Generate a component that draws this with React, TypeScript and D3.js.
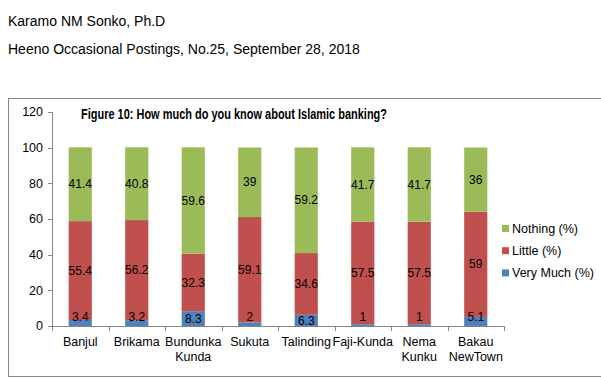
import React from "react";
import * as d3 from "d3";

const categories = ["Banjul", "Brikama", "Bundunka Kunda", "Sukuta", "Talinding", "Faji-Kunda", "Nema Kunku", "Bakau NewTown"];
const categoryLines = [["Banjul"], ["Brikama"], ["Bundunka", "Kunda"], ["Sukuta"], ["Talinding"], ["Faji-Kunda"], ["Nema", "Kunku"], ["Bakau", "NewTown"]];
const veryMuch = [3.4, 3.2, 8.3, 2, 6.3, 1, 1, 5.1];
const little = [55.4, 56.2, 32.3, 59.1, 34.6, 57.5, 57.5, 59];
const nothing = [41.4, 40.8, 59.6, 39, 59.2, 41.7, 41.7, 36];
const seriesKeys = ["veryMuch", "little", "nothing"];
const seriesNames = ["Very Much (%)", "Little (%)", "Nothing (%)"];
const seriesColors = ["#4F81BD", "#C0504D", "#9BBB59"];
const yTicks = [0, 20, 40, 60, 80, 100, 120];

const font = "Arial, 'Liberation Sans', sans-serif";

export default function App() {
  const rows = categories.map((c, i) => ({ cat: c, veryMuch: veryMuch[i], little: little[i], nothing: nothing[i] }));
  const stacked = d3.stack<any>().keys(seriesKeys)(rows);
  const x = d3.scaleBand().domain(categories).range([52, 504]).paddingInner(0.59).paddingOuter(0.295);
  const xGrid = d3.scaleBand().domain(categories).range([52, 504]).padding(0);
  const y = d3.scaleLinear().domain([0, 120]).range([326, 112]);
  const step = xGrid.step();
  const boundaries = d3.range(categories.length + 1).map((i) => 52 + i * step);

  return (
    <svg width={601} height={379} style={{ position: "absolute", left: 0, top: 0, background: "#fff" }}>
      <rect x={0} y={0} width={601} height={379} fill="#fff" />
      <text x={8} y={25.5} fontFamily={font} fontSize={14} fill="#000">Karamo NM Sonko, Ph.D</text>
      <text x={8} y={54} fontFamily={font} fontSize={14} fill="#000">Heeno Occasional Postings, No.25, September 28, 2018</text>
      <rect x={8.5} y={98.5} width={620} height={278} fill="none" stroke="#868686" strokeWidth={1} />
      <text x={81} y={119} fontFamily="'Liberation Sans Narrow', 'Arial Narrow', Arial, sans-serif" fontWeight="bold" fontSize={14} textLength={306} lengthAdjust="spacingAndGlyphs" fill="#000">Figure 10: How much do you know about Islamic banking?</text>

      {stacked.map((s, si) => (
        <g key={s.key}>
          {s.map((d, i) => (
            <rect key={i} x={x(categories[i])} y={y(d[1])} width={x.bandwidth()} height={y(d[0]) - y(d[1])} fill={seriesColors[si]} />
          ))}
        </g>
      ))}

      {stacked.map((s, si) => (
        <g key={"l" + s.key}>
          {s.map((d, i) => {
            const h = y(d[0]) - y(d[1]);
            const cy = h < 10 ? y(0) - 9.5 : (y(d[0]) + y(d[1])) / 2;
            const v = (rows[i] as any)[s.key];
            return (
              <text key={i} x={x(categories[i])! + x.bandwidth() / 2} y={cy} dy="0.35em" textAnchor="middle" fontFamily={font} fontSize={12} fill="#000">{v}</text>
            );
          })}
        </g>
      ))}

      <line x1={52.5} x2={52.5} y1={112} y2={326} stroke="#868686" />
      {yTicks.map((t) => (
        <g key={t}>
          <line x1={48} x2={52.5} y1={Math.round(y(t)) + 0.5} y2={Math.round(y(t)) + 0.5} stroke="#868686" />
          <text x={43} y={y(t)} dy="0.35em" textAnchor="end" fontFamily={font} fontSize={12.5} fill="#000">{t}</text>
        </g>
      ))}
      <line x1={52} x2={504} y1={326.5} y2={326.5} stroke="#868686" />
      {boundaries.map((b, i) => (
        <line key={i} x1={Math.round(b) + 0.5} x2={Math.round(b) + 0.5} y1={326} y2={331} stroke="#868686" />
      ))}
      {categoryLines.map((lines, i) => (
        <text key={i} textAnchor="middle" fontFamily={font} fontSize={12.5} fill="#000">
          {lines.map((l, li) => (
            <tspan key={li} x={xGrid(categories[i])! + step / 2} y={346 + li * 15}>{l}</tspan>
          ))}
        </text>
      ))}

      {[2, 1, 0].map((si, li) => (
        <g key={si}>
          <rect x={502} y={225 + li * 22.2} width={7} height={7} fill={seriesColors[si]} />
          <text x={512} y={228.5 + li * 22.2} dy="0.35em" fontFamily={font} fontSize={12.5} fill="#000">{seriesNames[si]}</text>
        </g>
      ))}
    </svg>
  );
}
